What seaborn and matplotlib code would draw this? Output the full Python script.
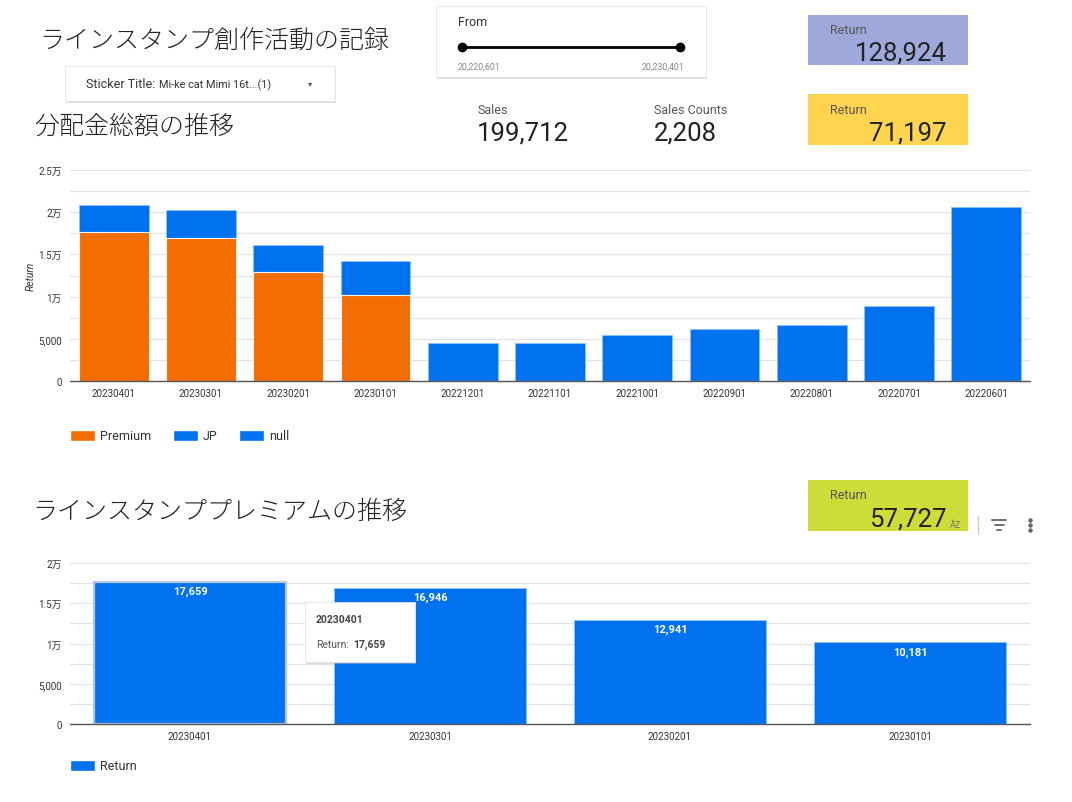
import matplotlib
matplotlib.use("Agg")
import matplotlib.pyplot as plt
import matplotlib.patches as mpatches
from matplotlib.lines import Line2D
from matplotlib.ticker import FuncFormatter, MultipleLocator
import pandas as pd
import seaborn as sns

# ---- data ----
months = ["20230401", "20230301", "20230201", "20230101", "20221201", "20221101",
          "20221001", "20220901", "20220801", "20220701", "20220601"]
premium = [17659, 16946, 12941, 10181, 0, 0, 0, 0, 0, 0, 0]
jp = [3135, 3292, 3130, 4061, 4524, 4524, 5476, 6111, 6667, 8929, 20675]

premium_months = ["20230401", "20230301", "20230201", "20230101"]
premium_return = [17659, 16946, 12941, 10181]

sales_total = 199712
sales_count = 2208
return_total = 128924
return_jp = 71197
return_premium = 57727
date_from = 20220601
date_to = 20230401

BLUE = "#0072f0"
ORANGE = "#f46d00"
W, H = 1072, 803

sns.set_theme(style="white")
plt.rcParams["font.family"] = ["Roboto", "Noto Sans CJK JP", "DejaVu Sans"]

fig = plt.figure(figsize=(W / 100, H / 100), dpi=100)


def fx(x):
    return x / W


def fy(y):
    return 1 - y / H


def text(x, y, s, **kw):
    kw.setdefault("va", "center")
    fig.text(fx(x), fy(y), s, **kw)


def card(x0, y0, x1, y1):
    # simple card with a soft shadow
    fig.add_artist(mpatches.Rectangle((fx(x0 + 1), fy(y1 + 2)), fx(x1 - x0), (y1 - y0) / H,
                                      transform=fig.transFigure, facecolor="#bbbbbb",
                                      edgecolor="none", alpha=0.5))
    fig.add_artist(mpatches.Rectangle((fx(x0), fy(y1)), fx(x1 - x0), (y1 - y0) / H,
                                      transform=fig.transFigure, facecolor="white",
                                      edgecolor="#e4e4e4", linewidth=0.6))


def colorbox(x0, y0, x1, y1, color):
    fig.add_artist(mpatches.Rectangle((fx(x0), fy(y1)), fx(x1 - x0), (y1 - y0) / H,
                                      transform=fig.transFigure, facecolor=color,
                                      edgecolor="none"))


def man_fmt(v, pos):
    if v >= 10000:
        return f"{v / 10000:g}万"
    return f"{int(v):,}"


def style_axis(ax, top):
    ax.set_ylim(0, top)
    ax.yaxis.set_major_locator(MultipleLocator(5000))
    ax.yaxis.set_minor_locator(MultipleLocator(2500))
    ax.yaxis.set_major_formatter(FuncFormatter(man_fmt))
    ax.grid(True, which="both", axis="y", color="#e3e3e3", linewidth=0.9)
    ax.set_axisbelow(True)
    for side in ["top", "right", "left"]:
        ax.spines[side].set_visible(False)
    ax.spines["bottom"].set_color("#555555")
    ax.spines["bottom"].set_linewidth(1.0)
    ax.tick_params(axis="both", which="both", length=0, labelsize=7, colors="#333333")
    ax.tick_params(axis="x", pad=5)
    ax.tick_params(axis="y", pad=6)
    ax.set_xlabel("")


# ---- header ----
text(39, 41, "ラインスタンプ創作活動の記録", fontsize=18, color="#222222", fontweight="light")

card(65, 67, 335, 102)
text(86, 85, "Sticker Title:", fontsize=9, color="#333333")
text(159, 85, "Mi-ke cat Mimi 16t...(1)", fontsize=7.8, color="#333333")
text(310, 84, "▾", fontsize=6, color="#555555", ha="center", family=["DejaVu Sans"])

card(436, 7, 706, 78)
text(458, 23, "From", fontsize=9, color="#333333")
fig.add_artist(Line2D([fx(462), fx(680)], [fy(48), fy(48)], transform=fig.transFigure,
                      color="black", linewidth=2, marker="o", markersize=6))
text(458, 67, f"{date_from:,}", fontsize=6.3, color="#888888")
text(684, 67, f"{date_to:,}", fontsize=6.3, color="#888888", ha="right")

colorbox(808, 16, 968, 66, "#9fa8da")
text(830, 30, "Return", fontsize=9, color="#555555")
text(947, 53, f"{return_total:,}", fontsize=18.5, color="#222222", ha="right")

text(477, 110, "Sales", fontsize=9, color="#555555")
text(477, 133, f"{sales_total:,}", fontsize=18.5, color="#222222")
text(654, 110, "Sales Counts", fontsize=9, color="#555555")
text(654, 133, f"{sales_count:,}", fontsize=18.5, color="#222222")

colorbox(808, 95, 968, 146, "#ffd54f")
text(830, 110, "Return", fontsize=9, color="#555555")
text(947, 133, f"{return_jp:,}", fontsize=18.5, color="#222222", ha="right")

text(34, 127, "分配金総額の推移", fontsize=18, color="#222222", fontweight="light")

# ---- top chart: stacked Premium + JP ----
df = pd.DataFrame({"month": months, "Premium": premium, "JP": jp})
df["total"] = df["Premium"] + df["JP"]

ax1 = fig.add_axes([fx(70), fy(382), fx(960), (382 - 171) / H])
sns.barplot(data=df, x="month", y="total", order=months, color=BLUE, saturation=1,
            width=0.8, edgecolor="#8fc0ff", linewidth=0.6, ax=ax1)
sns.barplot(data=df, x="month", y="Premium", order=months, color=ORANGE, saturation=1,
            width=0.8, edgecolor="#f5f5f5", linewidth=0.8, ax=ax1)
style_axis(ax1, 25000)
ax1.set_ylabel("Return", fontsize=7.5, style="italic", color="#333333")
ax1.yaxis.set_label_coords(-34 / 960, 0.5)

handles1 = [mpatches.Patch(facecolor=ORANGE, label="Premium"),
            mpatches.Patch(facecolor=BLUE, label="JP"),
            mpatches.Patch(facecolor=BLUE, label="null")]
fig.legend(handles=handles1, loc="center left", bbox_to_anchor=(fx(59), fy(437)), ncol=3,
           frameon=False, fontsize=9, handlelength=2.0, handleheight=1.0,
           handletextpad=0.4, columnspacing=1.7, labelcolor="#333333")

# ---- bottom section ----
text(32, 512, "ラインスタンププレミアムの推移", fontsize=18, color="#222222", fontweight="light")

colorbox(808, 481, 968, 532, "#cddc39")
text(830, 496, "Return", fontsize=9, color="#555555")
text(947, 519, f"{return_premium:,}", fontsize=18.5, color="#222222", ha="right")

# chart toolbar icons
text(956, 526, "ÂZ", fontsize=6.5, color="#777777", ha="center")
fig.add_artist(Line2D([fx(978), fx(978)], [fy(517), fy(535)], transform=fig.transFigure,
                      color="#cccccc", linewidth=1))
for yy, half in [(521, 7), (526, 4.5), (531, 2)]:
    fig.add_artist(Line2D([fx(999 - half), fx(999 + half)], [fy(yy), fy(yy)],
                          transform=fig.transFigure, color="#666666", linewidth=1.3))
for yy in [521, 526, 531]:
    fig.add_artist(Line2D([fx(1030)], [fy(yy)], transform=fig.transFigure, color="#666666",
                          marker="o", markersize=2.2, linestyle="none"))

df2 = pd.DataFrame({"month": premium_months, "Return": premium_return})
ax2 = fig.add_axes([fx(70), fy(725), fx(960), (725 - 564) / H])
sns.barplot(data=df2, x="month", y="Return", order=premium_months, color=BLUE, saturation=1,
            width=0.8, edgecolor="#8fc0ff", linewidth=0.6, ax=ax2)
style_axis(ax2, 20000)
ax2.set_ylabel("")
ax2.patches[0].set_edgecolor("#b9c7d8")
ax2.patches[0].set_linewidth(1.6)
for p, v in zip(ax2.patches, premium_return):
    ax2.annotate(f"{v:,}", (p.get_x() + p.get_width() / 2, p.get_height()),
                 xytext=(0, -3), textcoords="offset points", ha="center", va="top",
                 color="white", fontweight="bold", fontsize=8)

fig.legend(handles=[mpatches.Patch(facecolor=BLUE, label="Return")], loc="center left",
           bbox_to_anchor=(fx(59), fy(767)), frameon=False, fontsize=9, handlelength=2.0,
           handleheight=1.0, handletextpad=0.4, labelcolor="#333333")

# tooltip
card(305, 603, 415, 663)
text(316, 620, premium_months[0], fontsize=7.5, color="#444444", fontweight="bold")
text(316, 645, "Return:", fontsize=7.5, color="#555555")
text(353, 645, f"{premium_return[0]:,}", fontsize=7.5, color="#444444", fontweight="bold")

fig.savefig("out.png", dpi=100, facecolor="white")
